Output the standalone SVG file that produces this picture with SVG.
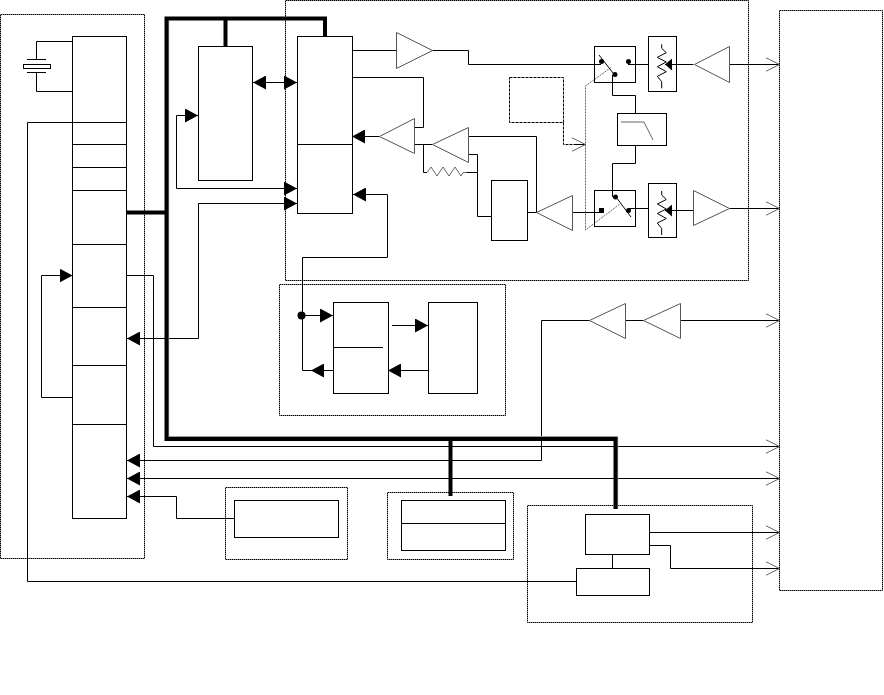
<svg xmlns="http://www.w3.org/2000/svg" width="884" height="695" viewBox="0 0 884 695">
<style>
rect,path,polyline,polygon,line{fill:none;stroke:#000;stroke-width:1}
.dot{stroke-dasharray:1.5 .5;stroke:#000}
.bus{stroke-width:4}
.busg{stroke:#999;stroke-width:1.2}
.amp{stroke:#555;fill:#fff}
.g{stroke:#666}
.w{fill:#fff}
.dash{stroke-dasharray:3 1}
.gd{stroke-dasharray:2 1}
.f{fill:#000;stroke:none}
.c{stroke-width:1;marker-end:url(#a)}
.o{marker-end:url(#o)}
</style>
<defs>
<marker id="a" markerUnits="userSpaceOnUse" markerWidth="14" markerHeight="14" refX="13" refY="7" orient="auto"><path d="M0,0L13,7L0,14Z" style="fill:#000;stroke:none"/></marker>
<marker id="as" markerUnits="userSpaceOnUse" markerWidth="8" markerHeight="12" refX="7" refY="6" orient="auto"><path d="M0,0L7,6L0,12Z" style="fill:#000;stroke:none"/></marker>
<marker id="o" markerUnits="userSpaceOnUse" markerWidth="15" markerHeight="16" refX="14" refY="8" orient="auto"><path d="M0,1L14,8L0,15" style="fill:none;stroke:#666;stroke-width:1"/></marker>
</defs>

<g id="frames">
<rect class="dot" x="0.5" y="14.5" width="144" height="544"/>
<rect class="dot" x="285.5" y="0.5" width="463" height="280"/>
<rect class="dot" x="279.5" y="284.5" width="226" height="131"/>
<rect class="dot" x="225.5" y="487.5" width="122" height="72"/>
<rect class="dot" x="387.5" y="492.5" width="126" height="67"/>
<rect class="dot" x="527.5" y="505.5" width="225" height="117"/>
<rect class="dot" x="779.5" y="10.5" width="103" height="580"/>
</g>

<g id="connectors">
<polyline points="72.5,41.5 36.5,41.5 36.5,59.5"/>
<polyline points="36.5,72.5 36.5,91.5 72.5,91.5"/>
<polyline points="72.5,122.5 27.5,122.5 27.5,581.5 576.5,581.5"/>
<polyline class="c" points="72.5,397.5 41.5,397.5 41.5,275.5 72.5,275.5"/>
<polyline class="o" points="126.5,275.5 153.5,275.5 153.5,446.5 779.5,446.5"/>
<polyline class="c" points="589.5,320.5 541.5,320.5 541.5,460.5 127,460.5"/>
<line class="c" x1="779" y1="478.5" x2="127" y2="478.5"/>
<line class="o" x1="127" y1="478.5" x2="779.5" y2="478.5"/>
<polyline class="c" points="234.5,518.5 176.5,518.5 176.5,496.5 127,496.5"/>
<polyline class="c" points="297,203.5 198.5,203.5 198.5,338.5 127,338.5"/>
<polyline class="c" points="176.5,140 176.5,115.5 198,115.5"/>
<polyline class="c" points="176.5,140 176.5,188.5 297,188.5"/>
<polyline class="c" points="198.5,330 198.5,203.5 297,203.5"/>
<line class="c" x1="270" y1="82.5" x2="253" y2="82.5"/>
<line class="c" x1="270" y1="82.5" x2="297" y2="82.5"/>
<polyline class="c" points="302.5,257.5 387.5,257.5 387.5,194.5 353,194.5"/>
<line x1="302.5" y1="257.5" x2="302.5" y2="315"/>
<line class="c" x1="302" y1="315.5" x2="333" y2="315.5"/>
<polyline points="333.5,370.5 302.5,370.5 302.5,315"/>
<line class="c" x1="333" y1="370.5" x2="311" y2="370.5"/>
<line class="c" x1="392" y1="325.5" x2="428" y2="325.5"/>
<line class="c" x1="428" y1="370.5" x2="388" y2="370.5"/>
<line x1="352.5" y1="50.5" x2="396.5" y2="50.5"/>
<polyline points="432.5,50.5 468.5,50.5 468.5,64.5 601,64.5"/>
<polyline points="352.5,77.5 423.5,77.5 423.5,127.5 414.5,127.5"/>
<line class="c" x1="379.5" y1="136.5" x2="352" y2="136.5"/>
<line x1="414.5" y1="144.5" x2="432.5" y2="144.5"/>
<polyline points="423.5,144.5 423.5,172.5 427,172.5"/>
<polyline class="g" points="427,172.5 431,167 437,176 443,167 449,176 455,167 461,176 463,172.5 467,172.5"/>
<line x1="467" y1="172.5" x2="477.5" y2="172.5"/>
<polyline points="468.5,154.5 477.5,154.5 477.5,216.5 491.5,216.5"/>
<polyline points="468.5,136.5 536.5,136.5 536.5,212.5"/>
<line x1="527.5" y1="212.5" x2="536.5" y2="212.5"/>
<line x1="572.5" y1="212.5" x2="601" y2="212.5"/>
<polyline class="dash" points="563.5,122.5 563.5,144.5 585,144.5"/>
<polyline class="o" points="575,144.5 585.5,144.5"/>
<polyline class="g gd" points="611,67.5 585.5,86 585.5,230 620,204"/>
<line x1="628" y1="64.5" x2="648.5" y2="64.5"/>
<polyline points="612.5,75 612.5,95.5 635.5,95.5 635.5,113.5"/>
<polyline points="635.5,145.5 635.5,163.5 612.5,163.5 612.5,197"/>
<line x1="628" y1="208.5" x2="648.5" y2="208.5"/>
<line style="marker-end:url(#as)" x1="693.5" y1="64.5" x2="665" y2="64.5"/>
<line style="marker-end:url(#as)" x1="693.5" y1="210.5" x2="665" y2="210.5"/>
<line class="o" x1="729.5" y1="64.5" x2="779.5" y2="64.5"/>
<line class="o" x1="729.5" y1="208.5" x2="779.5" y2="208.5"/>
<line x1="625.5" y1="320.5" x2="643.5" y2="320.5"/>
<line class="o" x1="680.5" y1="320.5" x2="779.5" y2="320.5"/>
<line class="o" x1="649.5" y1="532.5" x2="779.5" y2="532.5"/>
<polyline class="o" points="649.5,545.5 670.5,545.5 670.5,568.5 779.5,568.5"/>
<line x1="612.5" y1="554.5" x2="612.5" y2="568.5"/>
</g>

<g id="bus">
<line class="busg" x1="168.6" y1="20.5" x2="168.6" y2="436.5"/>
<line class="busg" x1="168" y1="436.5" x2="617.5" y2="436.5"/>
<line class="busg" x1="617.6" y1="436.5" x2="617.6" y2="509"/>
<polyline class="bus" points="126.5,212.5 166.5,212.5"/>
<polyline class="bus" points="325,36.5 325,18.5 166.5,18.5 166.5,439 615.5,439 615.5,509"/>
<line class="bus" x1="225.5" y1="18.5" x2="225.5" y2="46.5"/>
<line class="bus" x1="450.5" y1="439" x2="450.5" y2="496"/>
</g>

<g id="controller">
<rect x="72.5" y="36.5" width="54" height="482"/>
<path d="M72.5,122.5H126.5M72.5,144.5H126.5M72.5,167.5H126.5M72.5,190.5H126.5M72.5,244.5H126.5M72.5,307.5H126.5M72.5,365.5H126.5M72.5,424.5H126.5"/>
</g>
<g id="crystal">
<line x1="27" y1="59.5" x2="46" y2="59.5"/>
<rect x="23.5" y="64.5" width="27" height="4"/>
<line x1="27" y1="72.5" x2="46" y2="72.5"/>
</g>
<g id="memory"><rect x="198.5" y="46.5" width="54" height="134"/></g>
<g id="processor">
<rect x="297.5" y="36.5" width="55" height="177"/>
<line x1="297.5" y1="144.5" x2="352.5" y2="144.5"/>
</g>
<g id="amp1"><polygon class="amp" points="396.5,32.5 432.5,50.5 396.5,68.5"/></g>
<g id="amp2"><polygon class="amp" points="379.5,136.5 414.5,118.5 414.5,153.5"/></g>
<g id="amp3"><polygon class="amp" points="432.5,144.5 468.5,127.5 468.5,162.5"/></g>
<g id="amp4"><polygon class="amp" points="536.5,212.5 572.5,195.5 572.5,230.5"/></g>
<g id="amp5"><polygon class="amp" points="694.5,64.5 729.5,46.5 729.5,82.5"/></g>
<g id="amp6"><polygon class="amp" points="693.5,190.5 729.5,208.5 693.5,225.5"/></g>
<g id="amp7"><polygon class="amp" points="589.5,320.5 625.5,303.5 625.5,338.5"/></g>
<g id="amp8"><polygon class="amp" points="643.5,320.5 680.5,303.5 680.5,338.5"/></g>
<g id="block-mixer"><rect x="491.5" y="180.5" width="36" height="60"/></g>
<g id="block-dashed"><rect class="dash" x="509.5" y="77.5" width="54" height="45"/></g>
<g id="switch1">
<rect x="594.5" y="46.5" width="41" height="36"/>
<line x1="599" y1="55" x2="613" y2="73"/>
<circle class="f" cx="601.5" cy="61.5" r="2.5"/>
<circle class="f" cx="628.5" cy="61.5" r="2.5"/>
<circle class="f" cx="615" cy="74.5" r="2.5"/>
</g>
<g id="switch2">
<rect x="594.5" y="190.5" width="41" height="36"/>
<line x1="617.5" y1="199" x2="631" y2="217"/>
<circle class="f" cx="615.5" cy="197" r="2.5"/>
<rect class="f" x="599" y="208" width="5" height="5"/>
<circle class="f" cx="628.5" cy="210.5" r="2.5"/>
</g>
<g id="filter">
<rect x="617.5" y="113.5" width="49" height="32"/>
<polyline class="g" points="621,122 644,122 653,140"/>
</g>
<g id="atten1">
<rect x="648.5" y="36.5" width="28" height="55"/>
<polyline points="661.7,44.3 661.7,48.3 666.3,52.7 657.3,57.3 666.3,62 657.3,66.7 666.3,71.7 657.3,76.3 661.7,81.7 661.7,88.3"/>
</g>
<g id="atten2">
<rect x="648.5" y="183.5" width="28" height="54"/>
<polyline points="661.7,191 661.7,195 666.3,199.5 657.3,204 666.3,209 657.3,213.5 666.3,218.5 657.3,223 661.7,228.5 661.7,235"/>
</g>
<g id="codec">
<rect x="333.5" y="302.5" width="55" height="91"/>
<line x1="333.5" y1="347.5" x2="383" y2="347.5"/>
<circle class="f" cx="301.5" cy="315.5" r="4"/>
</g>
<g id="codec2"><rect x="428.5" y="302.5" width="49" height="91"/></g>
<g id="block-low"><rect x="234.5" y="500.5" width="104" height="37"/></g>
<g id="block-mem">
<rect x="401.5" y="500.5" width="104" height="50"/>
<line x1="401.5" y1="523.5" x2="505.5" y2="523.5"/>
</g>
<g id="block-io1"><rect class="w" x="585.5" y="514.5" width="64" height="40"/></g>
<g id="block-io2"><rect class="w" x="576.5" y="568.5" width="73" height="27"/></g>
</svg>
